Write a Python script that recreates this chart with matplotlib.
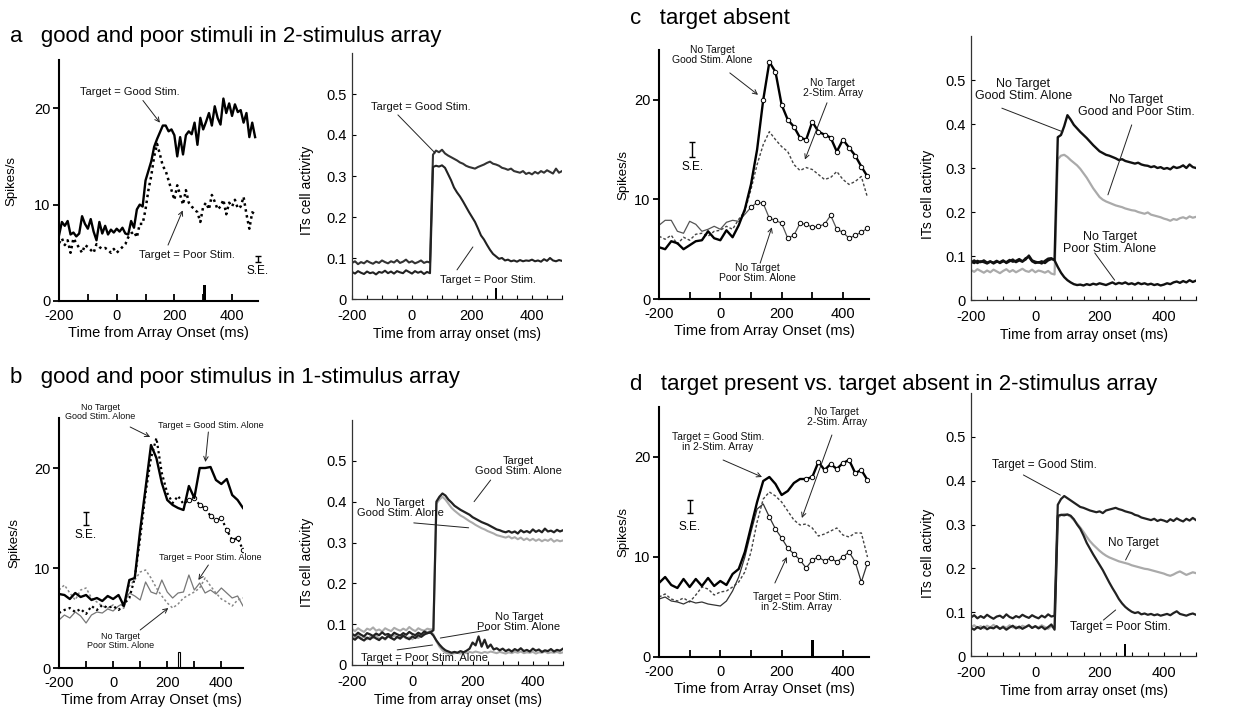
import numpy as np
import matplotlib.pyplot as plt
from matplotlib.ticker import MultipleLocator

plt.rcParams['font.family'] = ['Liberation Sans', 'DejaVu Sans']
plt.rcParams['axes.unicode_minus'] = False

# ---------------- data ----------------
# left panels: spikes/s ; a = 10 ms bins, b-d = 20 ms bins, starting at -200 ms
a_good = [6.8, 8.2, 7.8, 8.3, 6.9, 7.1, 6.7, 7.0, 8.8, 8.0,
          7.5, 8.5, 7.2, 6.3, 8.2, 7.0, 7.8, 6.9, 7.4, 7.1,
          7.5, 7.2, 7.6, 7.0, 6.9, 8.3, 7.6, 9.5, 10.0, 9.8,
          12.5, 13.5, 14.5, 16.0, 16.8, 17.5, 18.2, 18.2, 17.6, 17.8,
          17.2, 15.0, 17.0, 15.2, 17.2, 17.6, 17.3, 18.5, 16.2, 19.0,
          17.8, 18.6, 19.5, 18.2, 20.2, 19.0, 18.3, 21.0, 19.5, 20.5,
          19.2, 20.4, 19.6, 19.8, 18.5, 19.5, 17.0, 18.5, 17.0]
a_poor = [6.0, 6.5, 5.8, 6.3, 5.0, 6.5, 6.0, 5.5, 5.0, 5.8,
          5.6, 5.3, 5.0, 5.9, 5.6, 5.4, 5.5, 5.3, 5.0, 5.4,
          5.0, 5.3, 5.6, 5.9, 6.6, 7.0, 7.2, 6.6, 8.0, 8.0,
          9.5, 11.5, 13.0, 15.0, 16.3, 15.2, 14.0, 13.5, 12.5, 11.5,
          10.5, 12.0, 11.0, 10.0, 11.5, 10.2, 9.8, 9.5, 9.2, 8.2,
          9.8, 10.2, 9.5, 11.0, 10.3, 9.5, 9.8, 10.5, 9.0, 10.2,
          9.8, 10.5, 9.6, 9.8, 10.8, 9.0, 7.5, 9.2, 9.0]

b_tgood = [7.4, 7.3, 6.9, 7.5, 7.1, 7.3, 6.8, 7.0, 6.7, 7.2,
           6.9, 7.3, 6.2, 8.8, 9.0, 13.8, 18.0, 22.3, 21.0, 18.5,
           16.8, 16.3, 16.0, 15.8, 18.2, 17.0, 20.0, 20.0, 20.1, 18.8,
           18.4, 18.9, 17.3, 16.8, 16.0]
b_ngood = [5.5, 5.8, 6.0, 5.6, 5.9, 5.4, 6.2, 5.8, 6.3, 6.0,
           6.2, 5.8, 6.4, 7.0, 9.0, 13.0, 17.5, 21.0, 23.0, 19.5,
           17.5, 16.5, 17.2, 16.4, 16.8, 17.0, 16.3, 16.0, 15.2, 14.8,
           15.0, 13.8, 12.8, 13.0, 11.8]
b_tpoor = [4.8, 5.3, 5.0, 5.6, 5.2, 4.5, 5.3, 5.6, 5.5, 5.9,
           5.7, 6.2, 6.5, 7.5, 7.2, 6.8, 8.6, 7.6, 7.4, 8.8,
           7.6, 7.0, 7.5, 7.6, 9.3, 7.8, 8.5, 7.5, 7.8, 7.4,
           8.0, 7.5, 7.0, 7.2, 6.2]
b_npoor = [7.8, 8.3, 7.5, 6.8, 7.8, 8.0, 7.0, 6.6, 6.2, 6.0,
           6.3, 5.8, 6.0, 8.2, 8.8, 9.6, 9.8, 9.0, 8.0, 7.2,
           6.5, 6.0, 6.4, 7.0, 7.3, 7.6, 8.0, 9.0, 8.2, 7.5,
           6.9, 6.6, 6.2, 6.8, 7.0]

c_ngood = [5.2, 5.0, 5.8, 5.6, 5.0, 5.4, 5.8, 5.9, 6.8, 6.1,
           5.9, 6.9, 6.2, 7.4, 9.0, 11.5, 15.0, 20.0, 23.8, 22.8,
           19.5, 18.0, 17.3, 16.2, 16.0, 17.8, 16.8, 16.5, 16.2, 14.8,
           16.0, 15.2, 14.4, 13.3, 12.3]
c_ntwo = [6.3, 6.0, 6.4, 5.5, 6.2, 5.9, 6.5, 6.6, 6.3, 6.8,
          6.9, 7.3, 7.0, 8.0, 8.8, 11.0, 13.5, 15.5, 16.8, 16.0,
          15.3, 14.8, 13.5, 12.9, 13.2, 13.0, 12.5, 12.0, 12.2, 12.8,
          12.0, 11.5, 11.8, 12.3, 10.2]
c_npoor = [7.4, 7.9, 7.9, 6.8, 6.6, 7.8, 7.5, 6.8, 7.0, 7.3,
           7.0, 7.7, 7.9, 7.8, 8.5, 9.2, 9.7, 9.6, 8.1, 7.9,
           7.6, 6.1, 6.4, 7.6, 7.5, 7.2, 7.3, 7.5, 8.4, 7.0,
           6.7, 6.1, 6.4, 6.7, 7.1]

d_tgood = [7.4, 8.0, 7.2, 6.9, 7.8, 7.0, 7.8, 7.1, 7.9, 7.1,
           7.6, 7.2, 8.3, 8.8, 10.5, 13.0, 15.5, 17.6, 18.0, 17.3,
           16.2, 16.6, 17.4, 17.8, 17.8, 18.0, 19.5, 18.7, 19.3, 18.8,
           19.4, 19.7, 18.4, 18.7, 17.7]
d_ntwo = [6.0, 6.3, 5.8, 5.6, 5.9, 5.5, 6.2, 7.0, 6.8, 6.2,
          6.5, 6.6, 7.0, 7.5, 8.5, 10.5, 13.5, 15.8, 16.5, 16.1,
          15.5, 14.6, 13.7, 13.2, 13.3, 12.9, 12.1, 12.3, 12.6, 12.9,
          12.2, 12.0, 12.4, 12.4, 10.0]
d_tpoor = [5.8, 6.0, 5.6, 5.5, 5.3, 5.6, 5.4, 5.5, 5.3, 5.2,
           5.1, 5.6, 6.6, 8.0, 10.0, 12.5, 14.8, 15.3, 14.0, 12.8,
           11.9, 10.9, 10.3, 9.7, 8.9, 9.7, 10.0, 9.6, 9.9, 9.5,
           10.0, 10.5, 9.5, 7.5, 9.4]

# right panels: model ITs activity, 10 ms steps from -200 ms
ra_good = [0.088, 0.092, 0.085, 0.090, 0.087, 0.093, 0.089, 0.086, 0.091, 0.088,
           0.094, 0.090, 0.087, 0.092, 0.089, 0.095, 0.088, 0.091, 0.096, 0.089,
           0.092, 0.087, 0.090, 0.094, 0.088, 0.091, 0.089,
           0.352, 0.362, 0.358, 0.364, 0.355, 0.350, 0.346, 0.342, 0.338, 0.333,
           0.330, 0.325, 0.322, 0.320, 0.318, 0.322, 0.325, 0.328, 0.332, 0.335,
           0.330, 0.328, 0.325, 0.320, 0.318, 0.315, 0.318, 0.312, 0.310, 0.308,
           0.312, 0.305, 0.308, 0.304, 0.310, 0.306, 0.312, 0.308, 0.314, 0.310,
           0.306, 0.318, 0.308, 0.312]
ra_poor = [0.066, 0.062, 0.068, 0.064, 0.061, 0.067, 0.063, 0.065, 0.060, 0.066,
           0.064, 0.069, 0.063, 0.067, 0.062, 0.068, 0.065, 0.063, 0.070, 0.066,
           0.062, 0.068, 0.064, 0.067, 0.061, 0.066, 0.063,
           0.322, 0.325, 0.323, 0.326, 0.320, 0.305, 0.290, 0.272, 0.260, 0.250,
           0.238, 0.225, 0.212, 0.200, 0.188, 0.172, 0.155, 0.145, 0.132, 0.120,
           0.110, 0.104, 0.098, 0.100, 0.094, 0.096, 0.092, 0.094, 0.091, 0.095,
           0.092, 0.094, 0.093, 0.096, 0.092, 0.094, 0.091, 0.097, 0.093, 0.100,
           0.094, 0.092, 0.095, 0.093]

rb_tgood = [0.076, 0.072, 0.079, 0.074, 0.070, 0.078, 0.075, 0.071, 0.077, 0.073,
            0.080, 0.074, 0.076, 0.071, 0.079, 0.075, 0.072, 0.078, 0.074, 0.081,
            0.076, 0.073, 0.079, 0.075, 0.082, 0.078, 0.080, 0.085,
            0.400, 0.412, 0.420, 0.415, 0.405, 0.398, 0.390, 0.385, 0.380, 0.376,
            0.372, 0.368, 0.362, 0.358, 0.354, 0.350, 0.347, 0.344, 0.340, 0.336,
            0.332, 0.330, 0.327, 0.325, 0.328, 0.324, 0.327, 0.322, 0.330, 0.325,
            0.328, 0.324, 0.332, 0.326, 0.330, 0.325, 0.334, 0.327, 0.329, 0.325,
            0.331, 0.327, 0.330]
rb_ngood = [0.088, 0.083, 0.090, 0.085, 0.081, 0.089, 0.086, 0.092, 0.084, 0.087,
            0.082, 0.090, 0.086, 0.083, 0.091, 0.087, 0.084, 0.089, 0.085, 0.093,
            0.087, 0.083, 0.090, 0.086, 0.084, 0.089, 0.087, 0.088,
            0.395, 0.405, 0.412, 0.405, 0.395, 0.385, 0.378, 0.372, 0.366, 0.362,
            0.357, 0.352, 0.348, 0.343, 0.339, 0.335, 0.332, 0.328, 0.325, 0.322,
            0.318, 0.316, 0.314, 0.312, 0.315, 0.310, 0.313, 0.308, 0.312, 0.306,
            0.310, 0.305, 0.309, 0.304, 0.308, 0.303, 0.307, 0.304, 0.309, 0.302,
            0.306, 0.303, 0.305]
rb_tpoor = [0.066, 0.062, 0.069, 0.064, 0.060, 0.067, 0.063, 0.070, 0.065, 0.061,
            0.068, 0.064, 0.071, 0.066, 0.062, 0.069, 0.065, 0.072, 0.067, 0.063,
            0.070, 0.066, 0.073, 0.069, 0.075, 0.078, 0.080, 0.072,
            0.060, 0.050, 0.042, 0.036, 0.033, 0.030, 0.032, 0.030, 0.034, 0.031,
            0.035, 0.040, 0.055, 0.048, 0.070, 0.045, 0.062, 0.042, 0.050, 0.038,
            0.041, 0.036, 0.040, 0.034, 0.038, 0.033, 0.039, 0.035, 0.041, 0.034,
            0.037, 0.033, 0.040, 0.035, 0.038, 0.032, 0.036, 0.034, 0.039, 0.033,
            0.037, 0.035, 0.040]
rb_npoor = [0.072, 0.068, 0.074, 0.065, 0.070, 0.063, 0.069, 0.066, 0.072, 0.064,
            0.068, 0.062, 0.070, 0.066, 0.073, 0.067, 0.064, 0.070, 0.065, 0.068,
            0.063, 0.069, 0.066, 0.071, 0.074, 0.080, 0.083, 0.075,
            0.058, 0.045, 0.036, 0.030, 0.028, 0.027, 0.029, 0.030, 0.028, 0.031,
            0.029, 0.032, 0.030, 0.033, 0.031, 0.029, 0.032, 0.030, 0.033, 0.031,
            0.029, 0.032, 0.030, 0.028, 0.031, 0.029, 0.032, 0.030, 0.033, 0.029,
            0.031, 0.030, 0.032, 0.028, 0.031, 0.030, 0.033, 0.029, 0.031, 0.030,
            0.032, 0.029, 0.031]

rc_good = [0.085, 0.090, 0.084, 0.088, 0.086, 0.083, 0.087, 0.085, 0.089, 0.084,
           0.088, 0.086, 0.091, 0.087, 0.089, 0.093, 0.088, 0.092, 0.101, 0.090,
           0.087, 0.085, 0.088, 0.084, 0.090, 0.093, 0.092,
           0.370, 0.375, 0.395, 0.420, 0.410, 0.398, 0.390, 0.382, 0.375, 0.368,
           0.360, 0.352, 0.345, 0.338, 0.334, 0.330, 0.328, 0.325, 0.322, 0.318,
           0.320, 0.316, 0.314, 0.312, 0.310, 0.312, 0.308, 0.306, 0.305, 0.302,
           0.304, 0.300, 0.302, 0.298, 0.300, 0.297, 0.303, 0.300, 0.302, 0.306,
           0.300, 0.308, 0.302, 0.300]
rc_both = [0.068, 0.064, 0.070, 0.066, 0.062, 0.067, 0.063, 0.069, 0.065, 0.061,
           0.066, 0.070, 0.064, 0.068, 0.063, 0.067, 0.071, 0.066, 0.064, 0.069,
           0.063, 0.067, 0.065, 0.062, 0.066, 0.060, 0.058,
           0.320, 0.328, 0.330, 0.325, 0.318, 0.312, 0.306, 0.298, 0.288, 0.278,
           0.266, 0.254, 0.244, 0.234, 0.228, 0.224, 0.221, 0.218, 0.215, 0.213,
           0.211, 0.208, 0.206, 0.204, 0.203, 0.200, 0.198, 0.196, 0.199, 0.194,
           0.192, 0.190, 0.188, 0.185, 0.183, 0.180, 0.184, 0.182, 0.186, 0.188,
           0.185, 0.190, 0.187, 0.189]
rc_poor = [0.087, 0.084, 0.089, 0.086, 0.090, 0.085, 0.088, 0.083, 0.087, 0.086,
           0.090, 0.084, 0.088, 0.092, 0.086, 0.090, 0.087, 0.095, 0.098, 0.088,
           0.084, 0.086, 0.083, 0.089, 0.094, 0.095, 0.090,
           0.075, 0.062, 0.052, 0.045, 0.040, 0.036, 0.034, 0.035, 0.033, 0.036,
           0.034, 0.037, 0.035, 0.038, 0.036, 0.034, 0.037, 0.040, 0.036, 0.039,
           0.037, 0.040, 0.036, 0.038, 0.035, 0.039, 0.036, 0.038, 0.035, 0.037,
           0.034, 0.036, 0.033, 0.035, 0.038, 0.036, 0.040, 0.042, 0.039, 0.043,
           0.040, 0.045, 0.041, 0.044]

rd_good = [0.088, 0.093, 0.086, 0.091, 0.087, 0.094, 0.089, 0.085, 0.090, 0.092,
           0.087, 0.095, 0.089, 0.086, 0.091, 0.088, 0.094, 0.090, 0.087, 0.093,
           0.089, 0.086, 0.092, 0.088, 0.095, 0.090, 0.092,
           0.345, 0.358, 0.365, 0.360, 0.355, 0.350, 0.345, 0.340, 0.338, 0.335,
           0.332, 0.330, 0.328, 0.330, 0.326, 0.332, 0.334, 0.336, 0.338, 0.335,
           0.333, 0.330, 0.328, 0.326, 0.322, 0.320, 0.316, 0.314, 0.312, 0.310,
           0.313, 0.308, 0.311, 0.309, 0.306, 0.312, 0.308, 0.314, 0.310, 0.307,
           0.313, 0.309, 0.315, 0.310]
rd_none = [0.066, 0.070, 0.064, 0.068, 0.063, 0.069, 0.065, 0.071, 0.066, 0.062,
           0.068, 0.064, 0.070, 0.065, 0.067, 0.063, 0.069, 0.066, 0.071, 0.064,
           0.068, 0.065, 0.070, 0.066, 0.062, 0.068, 0.064,
           0.315, 0.322, 0.324, 0.322, 0.318, 0.310, 0.302, 0.293, 0.283, 0.272,
           0.262, 0.254, 0.247, 0.240, 0.234, 0.229, 0.225, 0.222, 0.219, 0.216,
           0.214, 0.212, 0.210, 0.207, 0.205, 0.203, 0.201, 0.199, 0.198, 0.196,
           0.194, 0.192, 0.190, 0.188, 0.185, 0.183, 0.186, 0.190, 0.193, 0.189,
           0.185, 0.188, 0.191, 0.189]
rd_poor = [0.064, 0.060, 0.066, 0.062, 0.067, 0.061, 0.065, 0.063, 0.068, 0.062,
           0.066, 0.060, 0.065, 0.069, 0.063, 0.067, 0.062, 0.066, 0.070, 0.064,
           0.068, 0.063, 0.067, 0.061, 0.066, 0.072, 0.060,
           0.320, 0.322, 0.321, 0.323, 0.320, 0.312, 0.300, 0.290, 0.275, 0.258,
           0.245, 0.232, 0.220, 0.208, 0.196, 0.182, 0.168, 0.155, 0.143, 0.130,
           0.120, 0.112, 0.106, 0.101, 0.098, 0.100, 0.095, 0.097, 0.094, 0.096,
           0.093, 0.095, 0.092, 0.094, 0.096, 0.093, 0.098, 0.102, 0.096, 0.094,
           0.092, 0.095, 0.097, 0.094]


def times(vals, step):
    return np.arange(len(vals)) * step - 200


# ---------------- figure ----------------
W, H = 1253, 713
fig = plt.figure(figsize=(W / 100, H / 100), dpi=100)


def add_ax(x0, y0, x1, y1):
    # pixel box: left, bottom, right, top
    return fig.add_axes([x0 / W, 1 - y0 / H, (x1 - x0) / W, (y0 - y1) / H])


def left_style(ax, xmax, ylab_x):
    ax.set_xlim(-200, xmax)
    ax.set_ylim(0, 25)
    for s in ['top', 'right']:
        ax.spines[s].set_visible(False)
    for s in ['left', 'bottom']:
        ax.spines[s].set_linewidth(1.5)
    ax.set_xticks([-200, 0, 200, 400])
    ax.set_xticks([-100, 100, 300], minor=True)
    ax.set_yticks([0, 10, 20])
    ax.tick_params(axis='x', which='both', direction='in', length=5, width=1.3,
                   labelsize=10.5, pad=6)
    ax.tick_params(axis='y', direction='out', length=4, width=1.3, labelsize=10.5, pad=2)
    ax.set_xlabel('Time from Array Onset (ms)', fontsize=10.5, labelpad=2)
    ax.set_ylabel('Spikes/s', fontsize=9.5)
    ax.yaxis.set_label_coords(ylab_x, 0.5)


def right_style(ax, ylab_x, ylab_y):
    ax.set_xlim(-200, 500)
    ax.set_ylim(0, 0.6)
    for s in ['top', 'right']:
        ax.spines[s].set_visible(False)
    for s in ['left', 'bottom']:
        ax.spines[s].set_linewidth(0.9)
        ax.spines[s].set_color('#333333')
    ax.set_xticks([-200, 0, 200, 400])
    ax.xaxis.set_minor_locator(MultipleLocator(50))
    ax.set_yticks([0, 0.1, 0.2, 0.3, 0.4, 0.5])
    ax.set_yticklabels(['0', '0.1', '0.2', '0.3', '0.4', '0.5'])
    ax.tick_params(axis='both', which='both', direction='in', length=3, width=0.8,
                   labelsize=10.5)
    ax.tick_params(axis='x', pad=7)
    ax.tick_params(axis='y', pad=4)
    ax.set_xlabel('Time from array onset (ms)', fontsize=10, labelpad=3)
    ax.set_ylabel('ITs cell activity', fontsize=10)
    ax.yaxis.set_label_coords(ylab_x, ylab_y)


def label(ax, txt, xy, fs):
    ax.text(xy[0], xy[1], txt, fontsize=fs, ha='center', va='center',
            linespacing=1.0, color='#111111')


def arrow(ax, start, end, head=True):
    ax.annotate('', xy=end, xytext=start,
                arrowprops=dict(arrowstyle='->' if head else '-', lw=0.7, color='#222222',
                                shrinkA=0, shrinkB=0, mutation_scale=8),
                annotation_clip=False)


def se_bar(ax, x, y, half, ty):
    ax.errorbar([x], [y], yerr=[half], color='k', lw=1.0, capsize=2.5, capthick=1.0,
                clip_on=False)
    ax.text(x, ty, 'S.E.', fontsize=8.5, ha='center', va='center')


thick = dict(color='k', lw=1.7)
circ = dict(marker='o', ms=3.2, mfc='white', mec='k', mew=0.7)

# ---------- a left ----------
ax = add_ax(59, 301, 258, 60)
left_style(ax, 490, -0.21)
ax.plot(times(a_poor, 10), a_poor, color='k', ls=(0, (1, 1.4)), lw=1.8)
ax.plot(times(a_good, 10), a_good, **thick)
ax.bar([305], [1.7], width=9, color='k')
label(ax, 'Target = Good Stim.', (45, 21.7), 8)
arrow(ax, (91, 20.8), (150, 18.5))
label(ax, 'Target = Poor Stim.', (245, 4.8), 8)
arrow(ax, (178, 5.8), (229, 9.4))
se_bar(ax, 490, 4.35, 0.35, 3.1)

# ---------- a right ----------
ax = add_ax(352, 299, 562, 53)
right_style(ax, -0.18, 0.44)
ax.plot(times(ra_good, 10), ra_good, color='#333333', lw=1.5)
ax.plot(times(ra_poor, 10), ra_poor, color='#222222', lw=1.5)
ax.bar([280], [0.027], width=6, color='k')
label(ax, 'Target = Good Stim.', (28, 0.468), 8)
arrow(ax, (-47, 0.449), (77, 0.356), head=False)
label(ax, 'Target = Poor Stim.', (253, 0.046), 8)
arrow(ax, (150, 0.071), (203, 0.127), head=False)

# ---------- b left ----------
ax = add_ax(59, 668, 243, 418)
left_style(ax, 480, -0.21)
ax.plot(times(b_tpoor, 20), b_tpoor, color='#777777', lw=0.9)
ax.plot(times(b_npoor, 20), b_npoor, color='#888888', ls=(0, (1.5, 1.5)), lw=1.1)
ax.plot(times(b_ngood, 20), b_ngood, color='k', ls=(0, (1, 1.4)), lw=1.6)
ax.plot(times(b_ngood, 20)[24:], b_ngood[24:], ls='none', **circ)
ax.plot(times(b_tgood, 20), b_tgood, **thick)
ax.bar([243], [1.6], width=10, facecolor='white', edgecolor='k', lw=0.8)
label(ax, 'No Target\nGood Stim. Alone', (-48, 25.6), 6.5)
arrow(ax, (63, 24.1), (137, 23.1))
label(ax, 'Target = Good Stim. Alone', (362, 24.3), 6.5)
arrow(ax, (352, 23.6), (341, 20.6))
label(ax, 'Target = Poor Stim. Alone', (359, 11.0), 6.5)
arrow(ax, (352, 10.3), (315, 8.8))
label(ax, 'No Target\nPoor Stim. Alone', (26, 2.7), 6.5)
arrow(ax, (100, 3.8), (204, 6.0))
se_bar(ax, -100, 14.95, 0.65, 13.3)

# ---------- b right ----------
ax = add_ax(352, 665, 563, 420)
right_style(ax, -0.18, 0.42)
ax.plot(times(rb_ngood, 10), rb_ngood, color='#aaaaaa', lw=1.5)
ax.plot(times(rb_npoor, 10), rb_npoor, color='#aaaaaa', lw=1.5)
ax.plot(times(rb_tgood, 10), rb_tgood, color='#222222', lw=1.6)
ax.plot(times(rb_tpoor, 10), rb_tpoor, color='#222222', lw=1.6)
label(ax, 'Target\nGood Stim. Alone', (353, 0.487), 8)
arrow(ax, (260, 0.453), (205, 0.40), head=False)
label(ax, 'No Target\nGood Stim. Alone', (-40, 0.385), 8)
arrow(ax, (5, 0.348), (187, 0.336), head=False)
label(ax, 'No Target\nPoor Stim. Alone', (353, 0.105), 8)
arrow(ax, (253, 0.086), (93, 0.066), head=False)
label(ax, 'Target = Poor Stim. Alone', (40, 0.018), 8)
arrow(ax, (-50, 0.037), (67, 0.049), head=False)

# ---------- c left ----------
ax = add_ax(659, 299, 869, 50)
left_style(ax, 485, -0.14)
ax.plot(times(c_npoor, 20), c_npoor, color='#555555', lw=0.9)
ax.plot(times(c_npoor, 20)[15:], c_npoor[15:], ls='none', **circ)
ax.plot(times(c_ntwo, 20), c_ntwo, color='#444444', ls=(0, (2, 1.5)), lw=1.0)
ax.plot(times(c_ngood, 20), c_ngood, **thick)
ax.plot(times(c_ngood, 20)[17:], c_ngood[17:], ls='none', **circ)
label(ax, 'No Target\nGood Stim. Alone', (-27, 24.5), 7.5)
arrow(ax, (31, 22.7), (123, 20.5))
label(ax, 'No Target\n2-Stim. Array', (367, 21.2), 7.5)
arrow(ax, (348, 19.7), (276, 14.0))
label(ax, 'No Target\nPoor Stim. Alone', (120, 2.6), 7.5)
arrow(ax, (130, 3.6), (168, 7.2))
se_bar(ax, -92, 15.05, 0.75, 13.3)

# ---------- c right ----------
ax = add_ax(971, 300, 1196, 36)
right_style(ax, -0.16, 0.40)
ax.plot(times(rc_both, 10), rc_both, color='#aaaaaa', lw=1.6)
ax.plot(times(rc_good, 10), rc_good, color='#111111', lw=1.7)
ax.plot(times(rc_poor, 10), rc_poor, color='#111111', lw=1.7)
label(ax, 'No Target\nGood Stim. Alone', (-38, 0.477), 9)
arrow(ax, (-104, 0.436), (86, 0.382), head=False)
label(ax, 'No Target\nGood and Poor Stim.', (315, 0.44), 9)
arrow(ax, (300, 0.398), (226, 0.239), head=False)
label(ax, 'No Target\nPoor Stim. Alone', (232, 0.13), 9)
arrow(ax, (185, 0.107), (247, 0.045), head=False)

# ---------- d left ----------
ax = add_ax(659, 657, 869, 407)
left_style(ax, 485, -0.14)
ax.plot(times(d_ntwo, 20), d_ntwo, color='#444444', ls=(0, (2, 1.5)), lw=1.0)
ax.plot(times(d_tpoor, 20), d_tpoor, color='#333333', lw=0.9)
ax.plot(times(d_tpoor, 20)[18:], d_tpoor[18:], ls='none', **circ)
ax.plot(times(d_tgood, 20), d_tgood, **thick)
ax.plot(times(d_tgood, 20)[24:], d_tgood[24:], ls='none', **circ)
ax.bar([300], [1.7], width=9, color='k')
label(ax, 'Target = Good Stim.\nin 2-Stim. Array', (-8, 21.5), 7.5)
arrow(ax, (9, 19.7), (136, 18.0))
label(ax, 'No Target\n2-Stim. Array', (380, 24.0), 7.5)
arrow(ax, (364, 22.2), (266, 13.9))
label(ax, 'Target = Poor Stim.\nin 2-Stim. Array', (250, 5.5), 7.5)
arrow(ax, (178, 7.4), (217, 10.0))
se_bar(ax, -99, 15.05, 0.65, 13.0)

# ---------- d right ----------
ax = add_ax(971, 656, 1196, 393)
right_style(ax, -0.16, 0.39)
ax.plot(times(rd_none, 10), rd_none, color='#aaaaaa', lw=1.6)
ax.plot(times(rd_good, 10), rd_good, color='#222222', lw=1.6)
ax.plot(times(rd_poor, 10), rd_poor, color='#222222', lw=1.6)
ax.bar([278], [0.028], width=6, color='k')
label(ax, 'Target = Good Stim.', (28, 0.436), 8.5)
arrow(ax, (-37, 0.413), (78, 0.367), head=False)
label(ax, 'No Target', (306, 0.258), 8.5)
arrow(ax, (297, 0.242), (281, 0.219), head=False)
label(ax, 'Target = Poor Stim.', (265, 0.066), 8.5)
arrow(ax, (212, 0.082), (250, 0.105), head=False)

# ---------- panel titles ----------
fig.text(10 / W, 1 - 42 / H, 'a   good and poor stimuli in 2-stimulus array', fontsize=16, va='baseline')
fig.text(10 / W, 1 - 383 / H, 'b   good and poor stimulus in 1-stimulus array', fontsize=16, va='baseline')
fig.text(630 / W, 1 - 24 / H, 'c   target absent', fontsize=16, va='baseline')
fig.text(630 / W, 1 - 390 / H, 'd   target present vs. target absent in 2-stimulus array', fontsize=16, va='baseline')

fig.savefig('out.png', dpi=100)
